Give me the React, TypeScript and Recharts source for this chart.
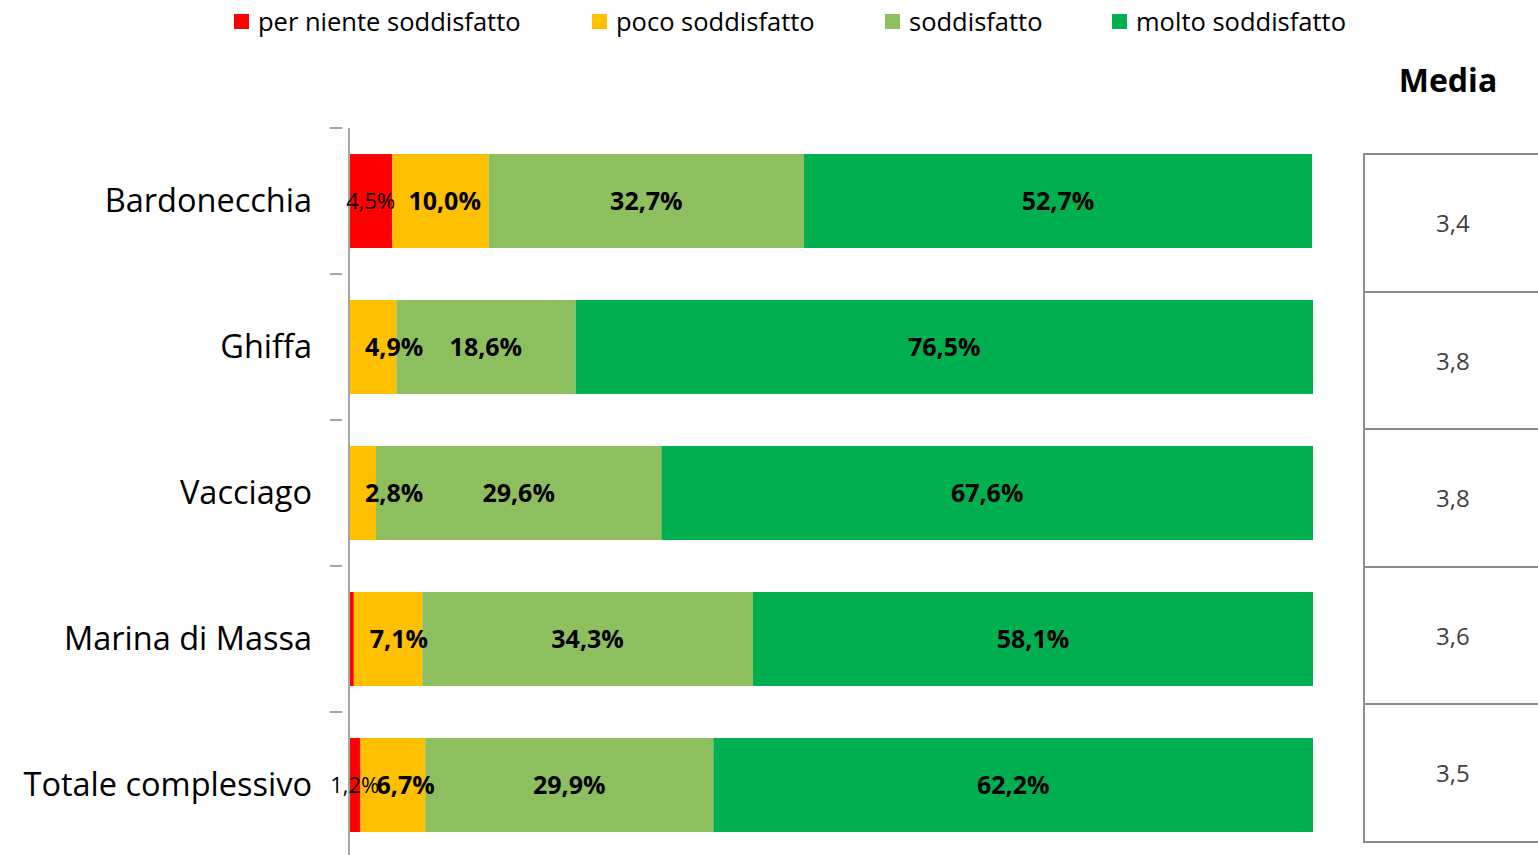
import { Bar, BarChart, LabelList, XAxis, YAxis } from "recharts";

const categories = [
  "Bardonecchia",
  "Ghiffa",
  "Vacciago",
  "Marina di Massa",
  "Totale complessivo",
];
const perNiente = [4.5, 0, 0, 0.5, 1.2];
const poco = [10.0, 4.9, 2.8, 7.1, 6.7];
const soddisfatto = [32.7, 18.6, 29.6, 34.3, 29.9];
const molto = [52.7, 76.5, 67.6, 58.1, 62.2];
const media = ["3,4", "3,8", "3,8", "3,6", "3,5"];

const series = [
  { key: "perNiente", name: "per niente soddisfatto", color: "#ff0000" },
  { key: "poco", name: "poco soddisfatto", color: "#ffc000" },
  { key: "soddisfatto", name: "soddisfatto", color: "#8ebf5f" },
  { key: "molto", name: "molto soddisfatto", color: "#00b050" },
];

const data = categories.map((name, i) => ({
  name,
  perNiente: perNiente[i],
  poco: poco[i],
  soddisfatto: soddisfatto[i],
  molto: molto[i],
}));

const FONT = "'Open Sans', sans-serif";
const legendX = [234, 592, 885, 1112];

function CategoryTick(props: any) {
  const { x, y, payload } = props;
  const half = 73;
  return (
    <g>
      <line x1={x - 11} x2={x + 1} y1={y - half} y2={y - half} stroke="#a6a6a6" strokeWidth={2} />
      <text x={312} y={y} dy={11} textAnchor="end" fontSize={32.5} fontFamily={FONT} fill="#000">
        {payload.value}
      </text>
    </g>
  );
}

// mode: "small" = red labels (regular), "base" = inside-left, "center" = centred bold
function makeLabel(mode: "small" | "base" | "center") {
  return (props: any) => {
    const { x, y, width, height, value } = props;
    if (value == null || value < 1) return null;
    const base = mode === "base";
    return (
      <text
        x={base ? x + 16 : x + width / 2}
        y={y + height / 2}
        dy={mode === "small" ? 8 : 9}
        textAnchor={base ? "start" : "middle"}
        fontSize={mode === "small" ? 22 : 25}
        fontWeight={mode === "small" ? 400 : 700}
        fontFamily={FONT}
        fill="#000"
      >
        {value.toFixed(1).replace(".", ",") + "%"}
      </text>
    );
  };
}

export default function App() {
  return (
    <div
      style={{
        position: "fixed",
        left: 0,
        top: 0,
        width: 1538,
        height: 855,
        overflow: "hidden",
        background: "#fff",
        fontFamily: FONT,
      }}
    >
      {series.map((s, i) => (
        <div
          key={s.key}
          style={{
            position: "absolute",
            left: legendX[i],
            top: 4,
            display: "flex",
            alignItems: "center",
            fontSize: 25.5,
            whiteSpace: "nowrap",
          }}
        >
          <span style={{ width: 15, height: 15, background: s.color, marginRight: 9, display: "inline-block" }} />
          {s.name}
        </div>
      ))}

      <BarChart
        width={1538}
        height={860}
        data={data}
        layout="vertical"
        margin={{ top: 128, right: 225, bottom: 2, left: 0 }}
        barCategoryGap={26}
      >
        <XAxis type="number" domain={[0, 100]} hide />
        <YAxis
          type="category"
          dataKey="name"
          width={349}
          axisLine={{ stroke: "#a6a6a6", strokeWidth: 2 }}
          tickLine={false}
          tick={<CategoryTick />}
          interval={0}
        />
        {series.map((s, i) => (
          <Bar key={s.key} dataKey={s.key} name={s.name} stackId="a" fill={s.color} isAnimationActive={false}>
            <LabelList
              dataKey={s.key}
              content={makeLabel(i === 0 ? "small" : i === 1 ? "base" : "center")}
            />
          </Bar>
        ))}
      </BarChart>

      <div
        style={{
          position: "absolute",
          left: 1380,
          top: 58,
          width: 136,
          textAlign: "center",
          fontSize: 32,
          fontWeight: 700,
        }}
      >
        Media
      </div>
      <div
        style={{
          position: "absolute",
          left: 1363,
          top: 153,
          width: 190,
          borderLeft: "2px solid #8c8c8c",
          borderTop: "2px solid #8c8c8c",
        }}
      >
        {media.map((m, i) => (
          <div
            key={i}
            style={{
              height: 135.5,
              borderBottom: "2px solid #8c8c8c",
              display: "flex",
              alignItems: "center",
              paddingLeft: 71,
              fontSize: 24,
              color: "#404040",
            }}
          >
            {m}
          </div>
        ))}
      </div>
    </div>
  );
}
